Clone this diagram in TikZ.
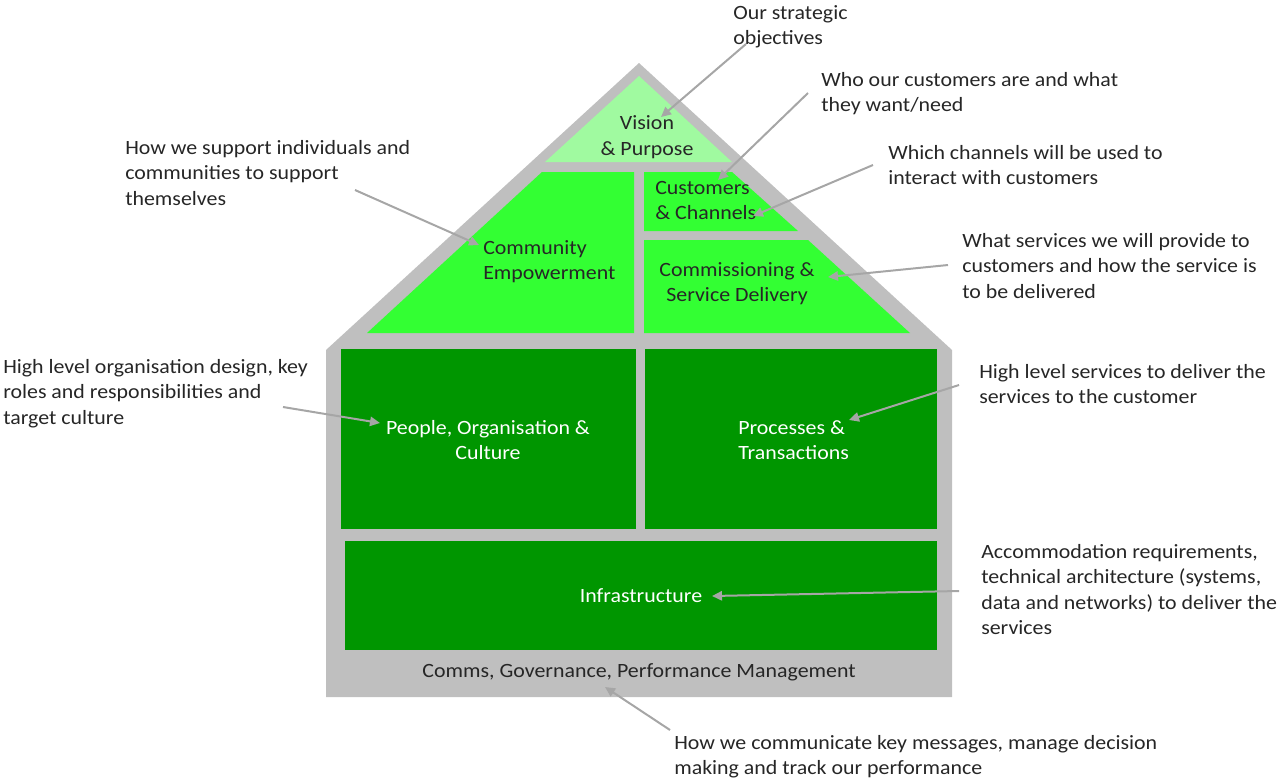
\documentclass[tikz,border=0pt]{standalone}
\usepackage{fontspec}
\setmainfont{Carlito}[FakeStretch=1.08]
\usetikzlibrary{arrows.meta}
\definecolor{roofgrey}{RGB}{191,191,191}
\definecolor{lightg}{RGB}{160,250,160}
\definecolor{brightg}{RGB}{51,255,51}
\definecolor{darkg}{RGB}{0,150,0}
\definecolor{txt}{RGB}{38,38,38}
\definecolor{arrowgrey}{RGB}{166,166,166}
\begin{document}
\begin{tikzpicture}[x=0.75pt,y=-0.75pt,
  lbl/.style={font=\fontsize{15.2pt}{19.1pt}\selectfont, text=txt, inner sep=0pt},
  note/.style={lbl, align=left, anchor=north west},
  inlbl/.style={lbl, align=center},
  wlbl/.style={lbl, align=center, text=white},
  ptr/.style={draw=arrowgrey, line width=1.5pt, -{Triangle[length=7.5pt,width=7pt]}},
]
\useasboundingbox (0,0) rectangle (1280,779);
% house
\fill[roofgrey] (639,63) -- (952,350) -- (952,697) -- (326,697) -- (326,350) -- cycle;
\fill[lightg] (639,76) -- (732,162) -- (545,162) -- cycle;
\fill[brightg] (542,172) -- (634,172) -- (634,333) -- (367,333) -- cycle;
\fill[brightg] (644,172) -- (732,172) -- (798,231) -- (644,231) -- cycle;
\fill[brightg] (644,240) -- (808,240) -- (910,333) -- (644,333) -- cycle;
\fill[darkg] (341,349) rectangle (636,529);
\fill[darkg] (645,349) rectangle (937,529);
\fill[darkg] (345,541) rectangle (937,650);
% inner labels
\node[inlbl] (vision) at (647,137) {Vision\\\& Purpose};
\node[lbl, align=left, anchor=north west] (cust) at (655,181) {Customers\\\& Channels};
\node[lbl, align=left, anchor=north west] (comm) at (483,240) {Community\\Empowerment};
\node[inlbl, anchor=north] (serv) at (737,262) {Commissioning \&\\Service Delivery};
\node[wlbl, anchor=north] (people) at (488,420) {People, Organisation \&\\Culture};
\node[lbl, text=white, align=left, anchor=north west] (proc) at (738,420) {Processes \&\\Transactions};
\node[wlbl] (infra) at (641,596) {Infrastructure};
\node[inlbl] (gov) at (639,672) {Comms, Governance, Performance Management};
% annotations
\node[note] (n1) at (733,5) {Our strategic\\objectives};
\node[note] (n2) at (821,72) {Who our customers are and what\\they want/need};
\node[note] (n3) at (888,145) {Which channels will be used to\\interact with customers};
\node[note] (n4) at (962,233) {What services we will provide to\\customers and how the service is\\to be delivered};
\node[note] (n5) at (125,140) {How we support individuals and\\communities to support\\themselves};
\node[note] (n6) at (3,359) {High level organisation design, key\\roles and responsibilities and\\target culture};
\node[note] (n7) at (979,364) {High level services to deliver the\\services to the customer};
\node[note] (n8) at (981,544) {Accommodation requirements,\\technical architecture (systems,\\data and networks) to deliver the\\services};
\node[note] (n9) at (674,735) {How we communicate key messages, manage decision\\making and track our performance};
% arrow end points
\coordinate (s1) at (746,44);  \coordinate (t1) at (661,117);
\coordinate (s2) at (808,93);  \coordinate (t2) at (718,180);
\coordinate (s3) at (873,165); \coordinate (t3) at (753,216);
\coordinate (s4) at (948,265); \coordinate (t4) at (828,277);
\coordinate (s5) at (355,190); \coordinate (t5) at (479,245);
\coordinate (s6) at (283,407); \coordinate (t6) at (380,423);
\coordinate (s7) at (959,385); \coordinate (t7) at (849,420);
\coordinate (s8) at (959,591); \coordinate (t8) at (712,596);
\coordinate (s9) at (670,730); \coordinate (t9) at (605,687);
\foreach \i in {1,...,9} {\draw[ptr] (s\i) -- (t\i);}
\end{tikzpicture}
\end{document}
